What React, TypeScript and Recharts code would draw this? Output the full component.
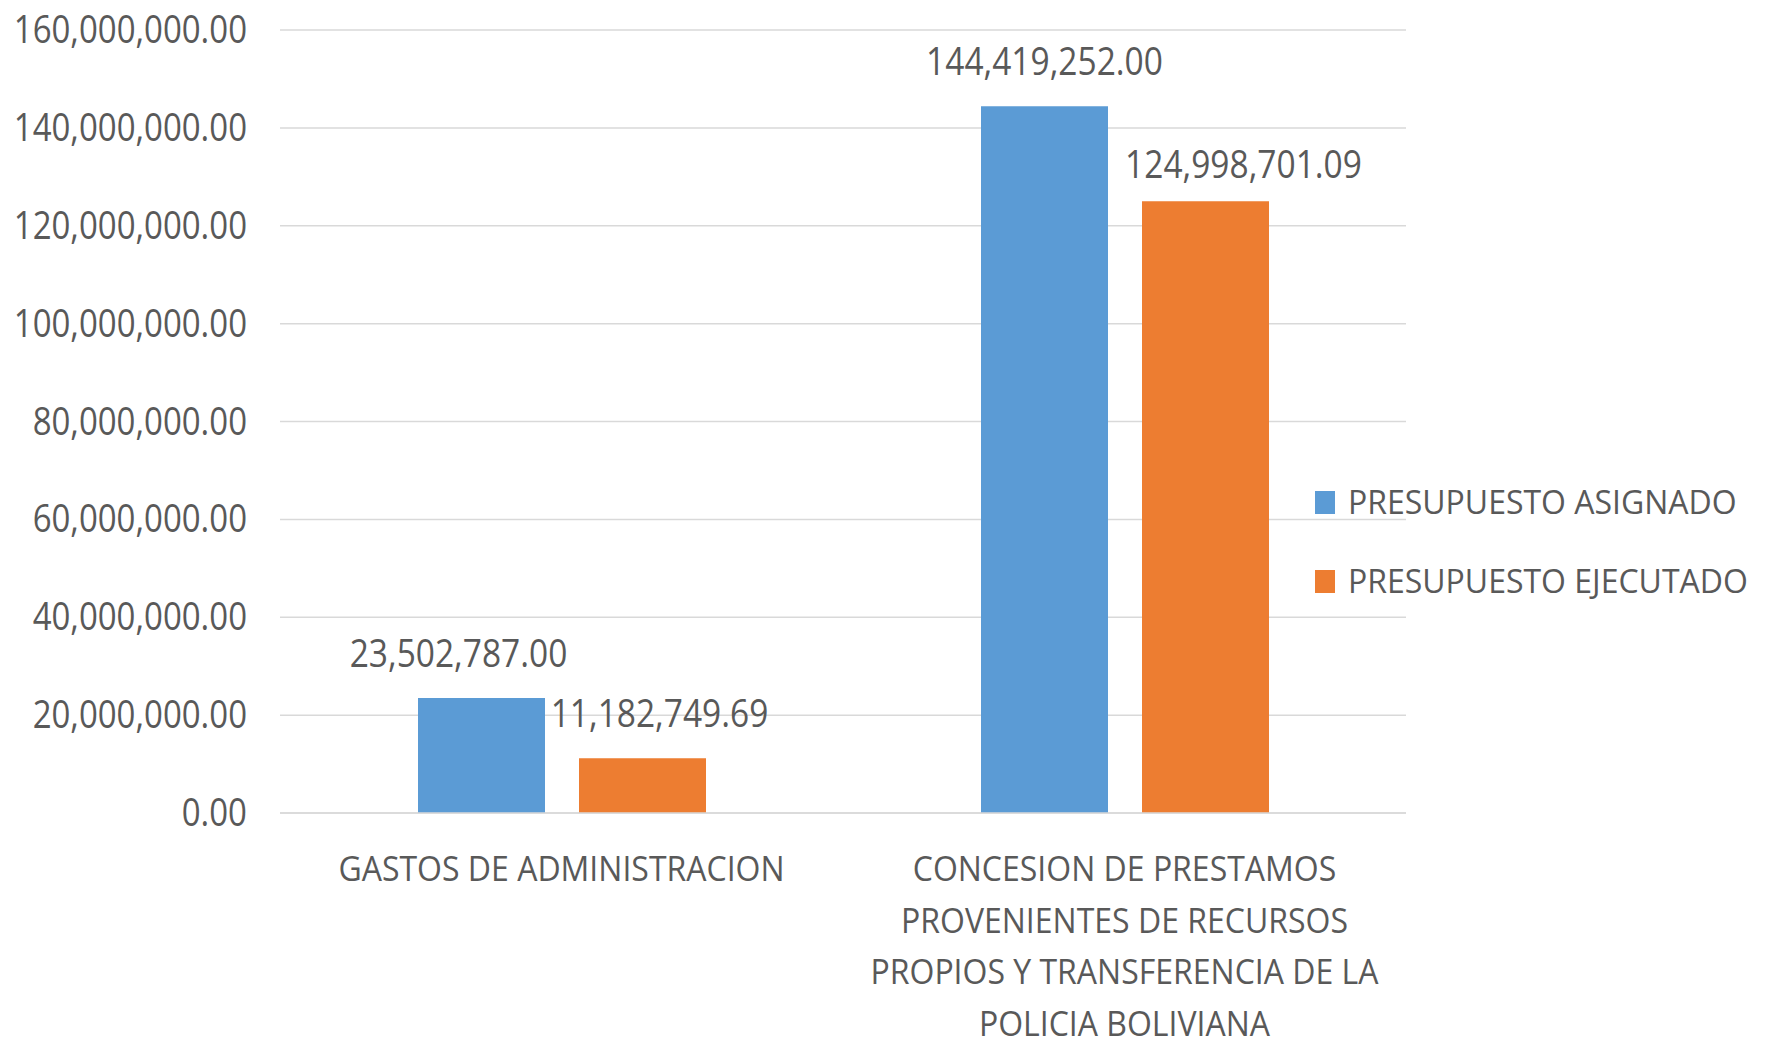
import React from "react";
import { BarChart, Bar, XAxis, YAxis, CartesianGrid, Legend } from "recharts";

const categories = [
  "GASTOS DE ADMINISTRACION",
  "CONCESION DE PRESTAMOS PROVENIENTES DE RECURSOS PROPIOS Y TRANSFERENCIA DE LA POLICIA BOLIVIANA",
];
const categoryLines = [
  ["GASTOS DE ADMINISTRACION"],
  ["CONCESION DE PRESTAMOS", "PROVENIENTES DE RECURSOS", "PROPIOS Y TRANSFERENCIA DE LA", "POLICIA BOLIVIANA"],
];
const asignado = [23502787.0, 144419252.0];
const ejecutado = [11182749.69, 124998701.09];
const seriesNames = ["PRESUPUESTO ASIGNADO", "PRESUPUESTO EJECUTADO"];
const yTicks = [0, 20000000, 40000000, 60000000, 80000000, 100000000, 120000000, 140000000, 160000000];

const data = categories.map((name, i) => ({ name, asignado: asignado[i], ejecutado: ejecutado[i] }));

const BLUE = "#5B9BD5";
const ORANGE = "#ED7D31";
const TEXT = "#595959";
const GRID = "#D9D9D9";
const FONT = "'Open Sans', 'Noto Sans', sans-serif";

const fmt = (v: number) =>
  v.toLocaleString("en-US", { minimumFractionDigits: 2, maximumFractionDigits: 2 });

// excel nudged some labels sideways / lower
const labelNudge: Record<string, { dx: number; up: number }[]> = {
  asignado: [{ dx: -23, up: 31 }, { dx: 0, up: 31 }],
  ejecutado: [{ dx: 17, up: 31 }, { dx: 38, up: 23 }],
};

function StretchText({ x, y, k, anchor, size, children }: any) {
  return (
    <g transform={`translate(${x},${y}) scale(1,${k})`}>
      <text x={0} y={0} textAnchor={anchor} fontSize={size} fontFamily={FONT} fill={TEXT}>
        {children}
      </text>
    </g>
  );
}

function YTick({ x, y, payload }: any) {
  return (
    <StretchText x={x} y={y + 13} k={1.15} anchor="end" size={33}>
      {fmt(payload.value)}
    </StretchText>
  );
}

function XTick({ x, y, payload }: any) {
  const lines = categoryLines[categories.indexOf(payload.value)] || [payload.value];
  return (
    <g>
      {lines.map((line, i) => (
        <StretchText key={i} x={x} y={y + 68 + i * 51.5} k={1.06} anchor="middle" size={32}>
          {line}
        </StretchText>
      ))}
    </g>
  );
}

const makeLabel = (key: string) => (props: any) => {
  const { x, y, width, value, index } = props;
  const n = labelNudge[key][index] || { dx: 0, up: 31 };
  return (
    <StretchText x={x + width / 2 + n.dx} y={y - n.up} k={1.15} anchor="middle" size={33.5}>
      {fmt(Number(value))}
    </StretchText>
  );
};

function LegendBox() {
  const colors = [BLUE, ORANGE];
  return (
    <svg width={453} height={150} style={{ overflow: "visible", display: "block" }}>
      {seriesNames.map((s, i) => (
        <g key={s}>
          <rect x={0} y={13 + i * 79} width={20} height={23} fill={colors[i]} />
          <StretchText x={33} y={36 + i * 79} k={1.05} anchor="start" size={32}>
            {s}
          </StretchText>
        </g>
      ))}
    </svg>
  );
}

export default function App() {
  return (
    <div style={{ position: "absolute", left: 0, top: 0, width: 1768, height: 1040, background: "#fff" }}>
      <BarChart
        width={1768}
        height={1040}
        data={data}
        margin={{ top: 30, right: 362, bottom: 27, left: 0 }}
        barSize={127}
        barGap={34}
      >
        <CartesianGrid vertical={false} stroke={GRID} strokeWidth={1.5} />
        <XAxis
          dataKey="name"
          height={200}
          interval={0}
          axisLine={{ stroke: GRID, strokeWidth: 1.5 }}
          tickLine={false}
          tickSize={0}
          tickMargin={0}
          tick={<XTick />}
        />
        <YAxis
          width={280}
          domain={[0, 160000000]}
          ticks={yTicks}
          axisLine={false}
          tickLine={false}
          tickSize={0}
          tickMargin={33}
          tick={<YTick />}
        />
        <Legend
          layout="vertical"
          align="center"
          verticalAlign="middle"
          wrapperStyle={{ left: 1315, top: 478, width: 453, height: 150 }}
          content={() => <LegendBox />}
        />
        <Bar dataKey="asignado" name={seriesNames[0]} fill={BLUE} isAnimationActive={false} label={makeLabel("asignado")} />
        <Bar dataKey="ejecutado" name={seriesNames[1]} fill={ORANGE} isAnimationActive={false} label={makeLabel("ejecutado")} />
      </BarChart>
    </div>
  );
}
